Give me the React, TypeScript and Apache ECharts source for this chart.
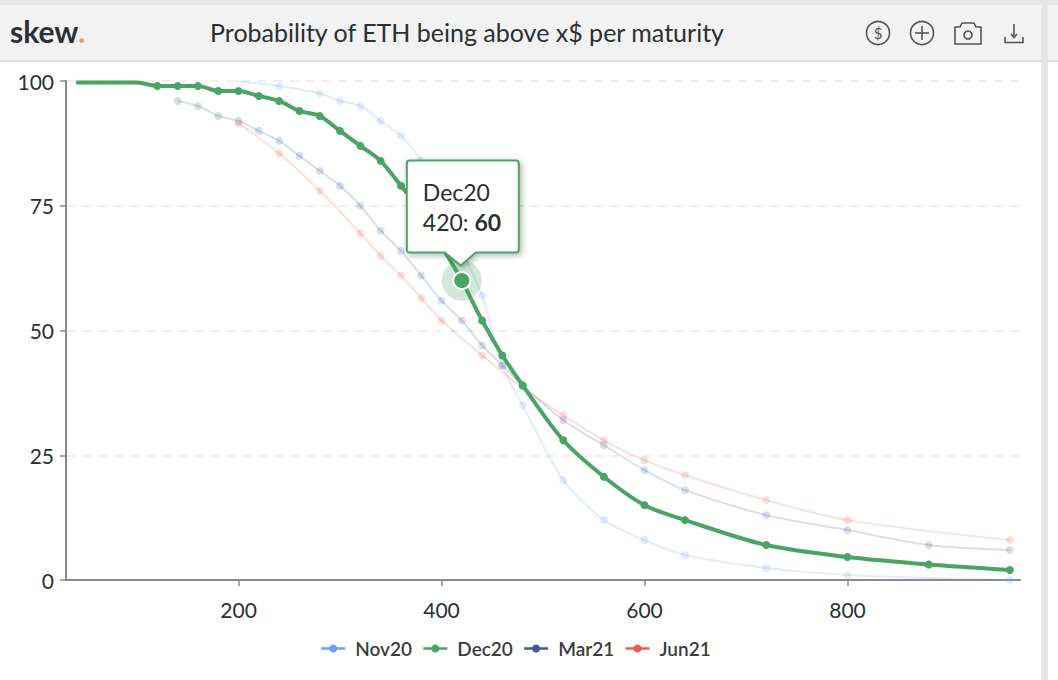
import React, { useEffect, useRef } from "react";
import * as echarts from "echarts";

const FONT = "Lato";
const TITLE = "Probability of ETH being above x$ per maturity";
const xTicks = [200, 400, 600, 800];

const nov20Strikes = [196, 240, 280, 300, 320, 340, 360, 380, 400, 420, 440, 460, 480, 520, 560, 600, 640, 720, 800, 960];
const nov20Values = [100, 99, 97.5, 96, 95, 92, 89, 84, 75, 66, 57, 43, 35, 20, 12, 8, 5, 2.4, 1, 0];
const nov20Unmarked = [196];

const dec20Strikes = [40, 60, 80, 100, 120, 140, 160, 180, 200, 220, 240, 260, 280, 300, 320, 340, 360, 380, 400, 420, 440, 460, 480, 520, 560, 600, 640, 720, 800, 880, 960];
const dec20Values = [99.7, 99.7, 99.7, 99.7, 99, 99, 99, 98, 98, 97, 96, 94, 93, 90, 87, 84, 79, 74, 67, 60, 52, 45, 39, 28, 20.7, 15, 12, 7, 4.6, 3.1, 2];
const dec20Unmarked = [40, 60, 80, 100];

const mar21Strikes = [140, 160, 180, 200, 220, 240, 260, 280, 300, 320, 340, 360, 380, 400, 420, 440, 460, 480, 520, 560, 600, 640, 720, 800, 880, 960];
const mar21Values = [96, 95, 93, 92, 90, 88, 85, 82, 79, 75, 70, 66, 61, 56, 52, 47, 43, 39, 32, 27, 22, 18, 13, 10, 7, 6];

const jun21Strikes = [200, 240, 280, 320, 340, 360, 380, 400, 440, 480, 520, 560, 600, 640, 720, 800, 960];
const jun21Values = [91.5, 85.5, 78, 69.5, 65, 61, 56.5, 52, 45, 38.5, 33, 28, 24, 21, 16, 12, 8];

const activeName = "Dec20";
const activePoint = [420, 60];

const BLUE = "#6d9ef5";
const GREEN = "#4aa465";
const NAVY = "#3c5a96";
const RED = "#ee5c54";
const INK = "#2b2f33";

function zip(xs: number[], ys: number[], unmarked: number[] = []) {
  return xs.map((x, i) =>
    unmarked.includes(x) ? { value: [x, ys[i]], symbol: "none" } : { value: [x, ys[i]] }
  );
}

function series(name: string, color: string, data: any[], active: boolean, z: number) {
  const opacity = active ? 1 : 0.2;
  return {
    name,
    type: "line",
    data,
    z,
    smooth: 0.3,
    symbol: "circle",
    symbolSize: 8,
    showAllSymbol: true,
    lineStyle: { color, width: active ? 4 : 2, opacity },
    itemStyle: { color, opacity },
    emphasis: { disabled: true },
  };
}

const calloutPath =
  "M3 0H109A3 3 0 0 1 112 3V89A3 3 0 0 1 109 92H69L54 105L38 92H3A3 3 0 0 1 0 89V3A3 3 0 0 1 3 0Z";
echarts.graphic.registerShape("skewCallout", echarts.graphic.extendPath(calloutPath, {}));

export default function App() {
  const ref = useRef<HTMLDivElement>(null);

  useEffect(() => {
    const chart = echarts.init(ref.current!, undefined, { renderer: "svg" });
    const legendItem = (name: string, color: string) => ({
      name,
      itemStyle: { color, opacity: 1 },
      lineStyle: { color, opacity: 1, width: 2.5 },
    });
    chart.setOption({
      animation: false,
      backgroundColor: "#ffffff",
      textStyle: { fontFamily: FONT },
      grid: { left: 66, right: 38, top: 81, bottom: 100, containLabel: false },
      legend: {
        left: 315,
        top: 634,
        itemWidth: 24,
        itemHeight: 10,
        itemGap: 10,
        textStyle: { fontFamily: FONT, fontSize: 19, fontWeight: 600, color: "#3c3c3c", padding: [0, 0, 0, 5] },
        data: [
          legendItem("Nov20", BLUE),
          legendItem("Dec20", GREEN),
          legendItem("Mar21", NAVY),
          legendItem("Jun21", RED),
        ],
      },
      xAxis: {
        type: "value",
        min: 30,
        max: 970,
        splitLine: { show: false },
        axisLine: { onZero: false, lineStyle: { color: "#8a8a8a", width: 2 } },
        axisTick: { show: true, length: 6, lineStyle: { color: "#8a8a8a", width: 1.5 }, customValues: xTicks },
        axisLabel: { fontFamily: FONT, fontSize: 21, color: INK, margin: 19, customValues: xTicks },
      },
      yAxis: {
        type: "value",
        min: 0,
        max: 100,
        interval: 25,
        axisLine: { show: true, lineStyle: { color: "#8a8a8a", width: 2 } },
        axisTick: { show: true, length: 6, lineStyle: { color: "#8a8a8a", width: 1.5 } },
        axisLabel: { fontFamily: FONT, fontSize: 21, color: INK, margin: 12 },
        splitLine: { show: true, lineStyle: { color: "#ececec", type: [9, 7], width: 1.5 } },
      },
      tooltip: { show: false },
      series: [
        series("Nov20", BLUE, zip(nov20Strikes, nov20Values, nov20Unmarked), false, 2),
        series("Mar21", NAVY, zip(mar21Strikes, mar21Values), false, 2),
        series("Jun21", RED, zip(jun21Strikes, jun21Values), false, 2),
        series(activeName, GREEN, zip(dec20Strikes, dec20Values, dec20Unmarked), true, 3),
      ],
    });

    const [px, py] = chart.convertToPixel({ xAxisIndex: 0, yAxisIndex: 0 }, activePoint) as number[];
    const iconStroke = { stroke: "#555", lineWidth: 1.6, fill: "none" };
    const W = 1058;
    chart.setOption({
      graphic: [
        { type: "rect", z: 50, shape: { x: 0, y: 0, width: W, height: 5 }, style: { fill: "#e6e6e6" } },
        { type: "rect", z: 50, shape: { x: 0, y: 5, width: W, height: 55 }, style: { fill: "#f2f2f2" } },
        { type: "rect", z: 50, shape: { x: 0, y: 60, width: W, height: 2 }, style: { fill: "#dcdcdc" } },
        { type: "rect", z: 50, shape: { x: 1041, y: 5, width: 7, height: 675 }, style: { fill: "#e6e6e6" } },
        {
          type: "text", z: 51, x: 10, y: 31,
          style: {
            text: "{a|skew}{b|.}", verticalAlign: "middle",
            rich: {
              a: { fontFamily: FONT, fontSize: 30, fontWeight: 700, fill: INK, color: INK },
              b: { fontFamily: FONT, fontSize: 30, fontWeight: 700, fill: "#e6a74a", color: "#e6a74a" },
            },
          },
        },
        {
          type: "text", z: 51, x: 467, y: 32,
          style: { text: TITLE, fontFamily: FONT, fontSize: 25, fill: INK, align: "center", verticalAlign: "middle" },
        },
        { type: "circle", z: 51, shape: { cx: 878, cy: 33, r: 11.5 }, style: iconStroke },
        { type: "text", z: 51, x: 878, y: 33, style: { text: "$", fontFamily: FONT, fontSize: 15, fill: "#555", align: "center", verticalAlign: "middle" } },
        { type: "circle", z: 51, shape: { cx: 922, cy: 33, r: 11.5 }, style: iconStroke },
        { type: "line", z: 51, shape: { x1: 915, y1: 33, x2: 929, y2: 33 }, style: iconStroke },
        { type: "line", z: 51, shape: { x1: 922, y1: 26, x2: 922, y2: 40 }, style: iconStroke },
        { type: "polygon", z: 51, shape: { points: [[955, 27], [960, 27], [962, 23], [974, 23], [976, 27], [981, 27], [981, 44], [955, 44]] }, style: iconStroke },
        { type: "circle", z: 51, shape: { cx: 968, cy: 35, r: 4 }, style: iconStroke },
        { type: "line", z: 51, shape: { x1: 1014, y1: 24, x2: 1014, y2: 37 }, style: iconStroke },
        { type: "polyline", z: 51, shape: { points: [[1011, 34], [1014, 37.5], [1017, 34]] }, style: iconStroke },
        { type: "polyline", z: 51, shape: { points: [[1005, 37], [1005, 42.5], [1023, 42.5], [1023, 37]] }, style: iconStroke },
        { type: "circle", z: 40, shape: { cx: px, cy: py, r: 20 }, style: { fill: GREEN, opacity: 0.25 } },
        { type: "circle", z: 41, shape: { cx: px, cy: py, r: 8.5 }, style: { fill: GREEN, stroke: "#ffffff", lineWidth: 2 } },
        {
          type: "skewCallout", z: 42, x: px - 55, y: py - 120,
          style: { fill: "#ffffff", stroke: GREEN, lineWidth: 2, shadowBlur: 6, shadowColor: "rgba(0,0,0,0.3)", shadowOffsetX: 2, shadowOffsetY: 2 },
        },
        {
          type: "text", z: 43, x: px - 39, y: py - 89,
          style: { text: activeName, fontFamily: FONT, fontSize: 23, fill: INK, verticalAlign: "middle" },
        },
        {
          type: "text", z: 43, x: px - 39, y: py - 59,
          style: {
            text: `{a|${activePoint[0]}: }{b|${activePoint[1]}}`, verticalAlign: "middle",
            rich: {
              a: { fontFamily: FONT, fontSize: 23, fill: INK, color: INK },
              b: { fontFamily: FONT, fontSize: 23, fontWeight: 700, fill: INK, color: INK },
            },
          },
        },
      ],
    });
    return () => chart.dispose();
  }, []);

  return <div ref={ref} style={{ position: "absolute", left: 0, top: 0, width: 1058, height: 680 }} />;
}
